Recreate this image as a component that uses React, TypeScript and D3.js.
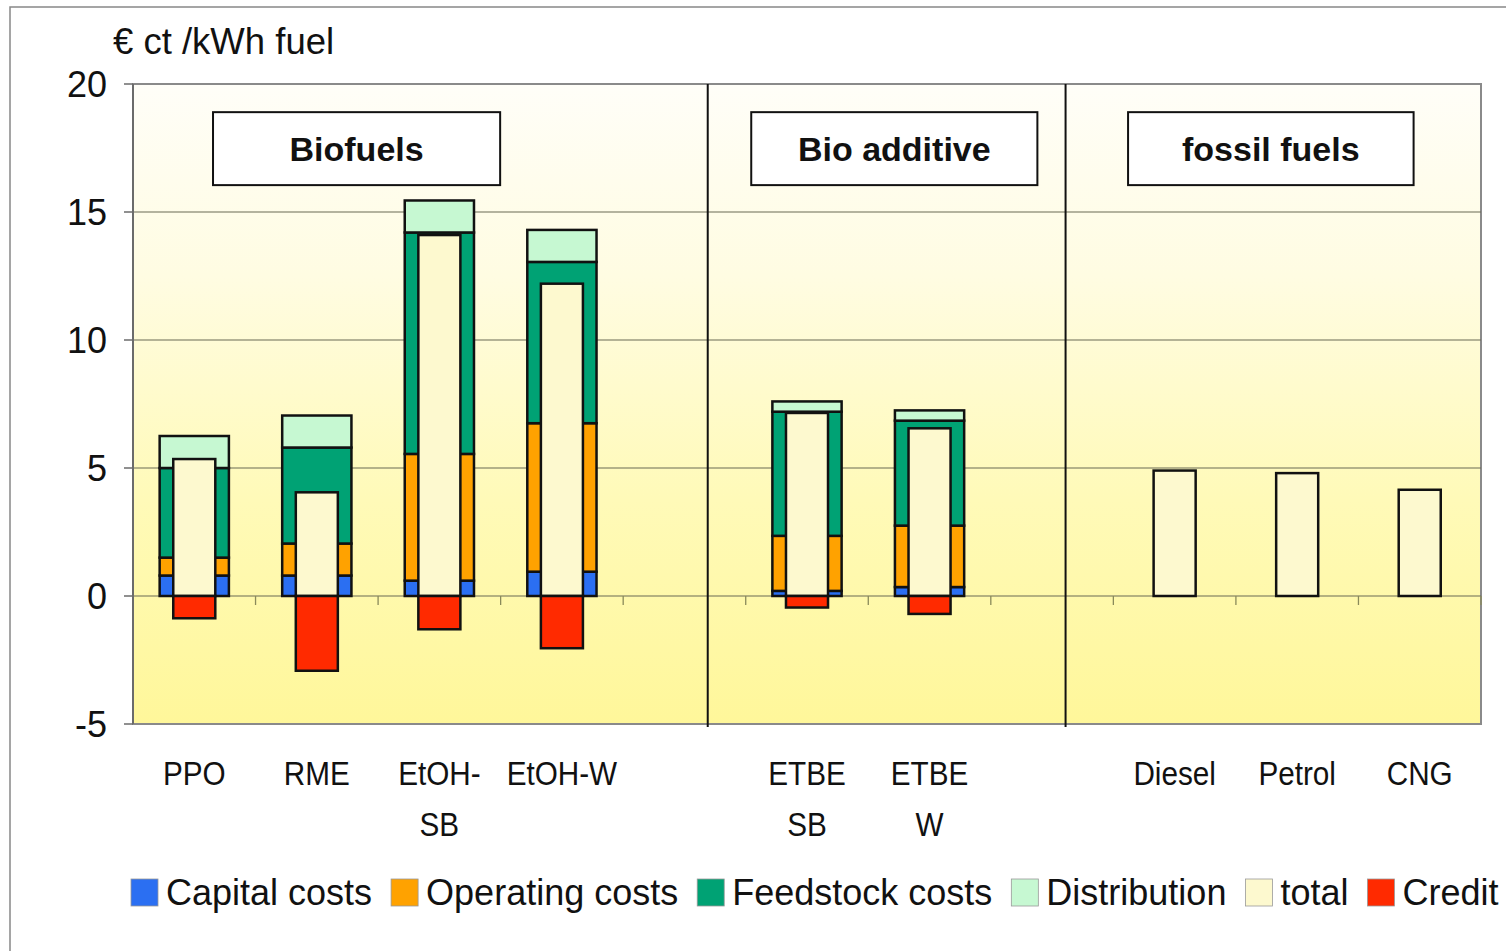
import React, { useEffect, useRef } from "react";
import * as d3 from "d3";

// ---- Data ----
const categories = ["PPO", "RME", "EtOH-|SB", "EtOH-W", "", "ETBE|SB", "ETBE|W", "", "Diesel", "Petrol", "CNG"];
const capital = [0.8, 0.8, 0.6, 0.95, 0, 0.2, 0.35, 0, 0, 0, 0];
const operating = [0.7, 1.25, 4.95, 5.8, 0, 2.15, 2.4, 0, 0, 0, 0];
const feedstock = [3.5, 3.75, 8.65, 6.3, 0, 4.85, 4.1, 0, 0, 0, 0];
const distribution = [1.25, 1.25, 1.25, 1.25, 0, 0.4, 0.4, 0, 0, 0, 0];
const total = [5.35, 4.05, 14.1, 12.2, 0, 7.15, 6.55, 0, 4.9, 4.8, 4.15];
const credit = [-0.87, -2.92, -1.3, -2.04, 0, -0.45, -0.7, 0, 0, 0, 0];
const yTicks = [-5, 0, 5, 10, 15, 20];
const yTitle = "€ ct /kWh fuel";
const groups = [
  { label: "Biofuels", from: 0.653, to: 2.996 },
  { label: "Bio additive", from: 5.045, to: 7.38 },
  { label: "fossil fuels", from: 8.12, to: 10.45 },
];
const dividers = [4.69, 7.61];
const seriesNames = ["Capital costs", "Operating costs", "Feedstock costs", "Distribution", "total", "Credit"];
const seriesColors = ["#2b6ff2", "#ffa200", "#00a274", "#c6f8d2", "#fdf9cf", "#ff2a00"];

const W = 1506, H = 951;
const L = 133, R = 1481, T = 84, B = 724;

export default function App() {
  const legendRef = useRef<SVGGElement>(null);

  const x = d3.scaleLinear().domain([0, categories.length]).range([L, R]);
  const y = d3.scaleLinear().domain([-5, 20]).range([B, T]);
  const slot = x(1) - x(0);
  const outerW = slot * 0.565;
  const innerW = slot * 0.343;

  const stackSeries = [capital, operating, feedstock, distribution];
  const segs: { i: number; s: number; y0: number; y1: number }[] = [];
  categories.forEach((_, i) => {
    let acc = 0;
    stackSeries.forEach((arr, s) => {
      const v = arr[i];
      if (v > 0) {
        segs.push({ i, s, y0: acc, y1: acc + v });
        acc += v;
      }
    });
  });

  useEffect(() => {
    const g = d3.select(legendRef.current);
    g.selectAll("*").remove();
    let cx = 131;
    seriesNames.forEach((name, k) => {
      g.append("rect").attr("x", cx).attr("y", 879).attr("width", 27).attr("height", 27)
        .attr("fill", seriesColors[k]).attr("stroke", "#999").attr("stroke-width", 0.8);
      const t = g.append("text").attr("x", cx + 35).attr("y", 905).attr("font-size", 36)
        .attr("font-family", "Liberation Sans, Arial, sans-serif").attr("fill", "#111").text(name);
      const w = (t.node() as SVGTextElement).getComputedTextLength();
      cx = cx + 35 + w + 19;
    });
  }, []);

  const font = "Liberation Sans, Arial, sans-serif";

  return (
    <svg width={W} height={H} style={{ position: "absolute", left: 0, top: 0, background: "#fff" }} fontFamily={font}>
      <defs>
        <linearGradient id="bg" x1="0" y1="0" x2="0" y2="1">
          <stop offset="0" stopColor="#fffef8" />
          <stop offset="0.3" stopColor="#fffce2" />
          <stop offset="0.65" stopColor="#fffab8" />
          <stop offset="1" stopColor="#fff79a" />
        </linearGradient>
      </defs>
      <rect x={10} y={7} width={W + 20} height={H + 20} fill="#fff" stroke="#888" strokeWidth={1.5} />
      <rect x={L} y={T} width={R - L} height={B - T} fill="url(#bg)" stroke="#8a8a8a" strokeWidth={2} />
      {/* gridlines */}
      {yTicks.filter((t) => t > -5 && t < 20).map((t) => (
        <line key={t} x1={L} x2={R} y1={y(t)} y2={y(t)} stroke="#6b6b55" strokeWidth={1.2} />
      ))}
      {/* y axis */}
      <line x1={L} x2={L} y1={T} y2={B} stroke="#6b6b6b" strokeWidth={2} />
      {yTicks.map((t) => (
        <g key={"yt" + t}>
          <line x1={L - 9} x2={L} y1={y(t)} y2={y(t)} stroke="#6b6b6b" strokeWidth={1.5} />
          <text x={107} y={y(t) + 13} textAnchor="end" fontSize={36} fill="#111">{t}</text>
        </g>
      ))}
      {/* x ticks */}
      {d3.range(1, categories.length + 1).map((k) => (
        <line key={"xt" + k} x1={x(k)} x2={x(k)} y1={y(0)} y2={y(0) + 9} stroke="#8a8a5a" strokeWidth={1.3} />
      ))}
      {/* dividers */}
      {dividers.map((d, k) => (
        <line key={"dv" + k} x1={x(d)} x2={x(d)} y1={T} y2={B + 3} stroke="#111" strokeWidth={2} />
      ))}
      {/* stacked */}
      {segs.map((s, k) => (
        <rect key={"s" + k} x={x(s.i + 0.5) - outerW / 2} y={y(s.y1)} width={outerW} height={y(s.y0) - y(s.y1)}
          fill={seriesColors[s.s]} stroke="#111" strokeWidth={2.5} />
      ))}
      {/* total */}
      {total.map((v, i) => v > 0 ? (
        <rect key={"t" + i} x={x(i + 0.5) - innerW / 2} y={y(v)} width={innerW} height={y(0) - y(v)}
          fill={seriesColors[4]} stroke="#111" strokeWidth={2.5} />
      ) : null)}
      {/* credit */}
      {credit.map((v, i) => v < 0 ? (
        <rect key={"c" + i} x={x(i + 0.5) - innerW / 2} y={y(0)} width={innerW} height={y(v) - y(0)}
          fill={seriesColors[5]} stroke="#111" strokeWidth={2.5} />
      ) : null)}
      {/* group boxes */}
      {groups.map((g) => (
        <g key={g.label}>
          <rect x={x(g.from)} y={y(18.9)} width={x(g.to) - x(g.from)} height={y(16.05) - y(18.9)}
            fill="#fff" stroke="#111" strokeWidth={2} />
          <text x={(x(g.from) + x(g.to)) / 2} y={161} textAnchor="middle" fontSize={34} fontWeight="bold" fill="#111">{g.label}</text>
        </g>
      ))}
      {/* x labels */}
      {categories.map((c, i) => c ? (
        <g key={"xl" + i} transform={`translate(${x(i + 0.5)},785) scale(0.9,1)`}>
          <text x={0} y={0} textAnchor="middle" fontSize={33} fill="#111">
            {c.split("|").map((part, j) => (
              <tspan key={j} x={0} dy={j === 0 ? 0 : 51}>{part}</tspan>
            ))}
          </text>
        </g>
      ) : null)}
      {/* y title */}
      <text x={113} y={54} fontSize={36.5} fill="#111">{yTitle}</text>
      <g ref={legendRef} />
    </svg>
  );
}
